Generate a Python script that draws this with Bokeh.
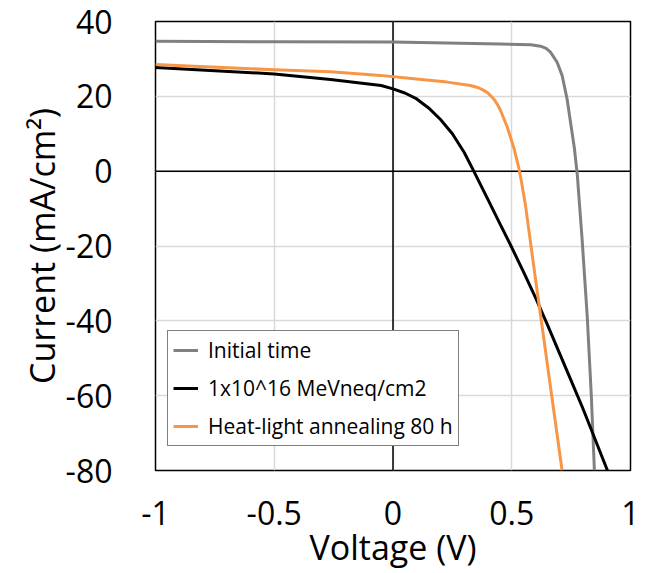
from bokeh.plotting import figure
from bokeh.models import Range1d, FixedTicker, Span, Legend, LegendItem
from bokeh.embed import file_html
from bokeh.resources import INLINE

# ---- data ----
v_initial = [-1.0, -0.5, 0.0, 0.45, 0.58, 0.621, 0.645, 0.663, 0.691, 0.712, 0.733, 0.75,
             0.764, 0.776, 0.796, 0.818, 0.835, 0.848]
i_initial = [34.7, 34.6, 34.5, 34.0, 33.8, 33.4, 32.8, 31.8, 29.1, 25.6, 19.3, 12.0,
             6.0, -1.0, -18.0, -39.0, -60.0, -80.0]

v_irr = [-1.0, -0.5, -0.263, -0.05, 0.0, 0.05, 0.1, 0.15, 0.2, 0.25, 0.3, 0.34,
         0.4, 0.45, 0.5, 0.55, 0.6, 0.65, 0.7, 0.75, 0.8, 0.85, 0.903]
i_irr = [27.7, 26.0, 24.5, 22.9, 22.0, 20.9, 19.3, 16.9, 13.8, 10.0, 5.0, 0.0,
         -7.6, -14.0, -20.4, -27.0, -33.8, -41.0, -48.5, -56.0, -63.5, -71.5, -80.0]

v_ann = [-1.0, -0.5, -0.263, -0.053, 0.088, 0.228, 0.326, 0.36, 0.382, 0.4, 0.424, 0.44,
         0.453, 0.481, 0.509, 0.53, 0.54, 0.558, 0.579, 0.6, 0.624, 0.663, 0.712]
i_ann = [28.5, 27.1, 26.6, 25.6, 24.7, 23.8, 22.9, 22.3, 21.6, 20.9, 19.3, 17.8,
         16.2, 11.8, 6.2, 0.8, -2.5, -9.2, -19.0, -28.8, -39.7, -57.6, -80.0]

series_names = ["Initial time", "1x10^16 MeVneq/cm2", "Heat-light annealing 80 h"]
series_colors = ["#808080", "#000000", "#F79646"]

x_ticks = [-1, -0.5, 0, 0.5, 1]
x_tick_labels = ["-1", "-0.5", "0", "0.5", "1"]
y_ticks = [-80, -60, -40, -20, 0, 20, 40]
y_tick_labels = ["-80", "-60", "-40", "-20", "0", "20", "40"]

FONT = "Open Sans"

p = figure(width=659, height=573, output_backend="svg", toolbar_location=None,
           x_range=Range1d(-1, 1), y_range=Range1d(-80, 40),
           min_border_left=155, min_border_right=29, min_border_top=21, min_border_bottom=103)

p.outline_line_color = "black"
p.outline_line_width = 1.5
p.background_fill_color = "white"
p.border_fill_color = "white"

for ax in (p.xaxis, p.yaxis):
    ax.major_tick_line_color = None
    ax.minor_tick_line_color = None
    ax.axis_line_color = None
    ax.major_label_text_font = FONT
    ax.major_label_text_font_size = "32px"
    ax.major_label_text_color = "black"
    ax.axis_label_text_font = FONT
    ax.axis_label_text_font_size = "34px"
    ax.axis_label_text_font_style = "normal"
    ax.axis_label_text_color = "black"

p.xaxis.ticker = FixedTicker(ticks=x_ticks)
p.yaxis.ticker = FixedTicker(ticks=y_ticks)
p.xaxis.major_label_overrides = dict(zip(x_ticks, x_tick_labels))
p.yaxis.major_label_overrides = dict(zip(y_ticks, y_tick_labels))
p.xaxis.major_label_standoff = 24
p.yaxis.major_label_standoff = 37
p.xaxis.axis_label = "Voltage (V)"
p.yaxis.axis_label = "Current (mA/cm\u00b2)"
p.xaxis.axis_label_standoff = -4
p.yaxis.axis_label_standoff = -2

p.xgrid.ticker = FixedTicker(ticks=x_ticks)
p.ygrid.ticker = FixedTicker(ticks=y_ticks)
p.grid.grid_line_color = "#d9d9d9"
p.grid.grid_line_width = 1.5

p.add_layout(Span(location=0, dimension="height", line_color="black", line_width=1.5, level="underlay"))
p.add_layout(Span(location=0, dimension="width", line_color="black", line_width=1.5, level="underlay"))

r1 = p.line(v_initial, i_initial, line_color=series_colors[0], line_width=3, line_join="round")
r2 = p.line(v_irr, i_irr, line_color=series_colors[1], line_width=3, line_join="round")
r3 = p.line(v_ann, i_ann, line_color=series_colors[2], line_width=3, line_join="round")

legend = Legend(items=[LegendItem(label=series_names[0], renderers=[r1]),
                       LegendItem(label=series_names[1], renderers=[r2]),
                       LegendItem(label=series_names[2], renderers=[r3])],
                location=(12, 24))
legend.label_text_font = FONT
legend.label_text_font_size = "21px"
legend.label_text_color = "black"
legend.border_line_color = "black"
legend.border_line_width = 1.5
legend.background_fill_alpha = 1.0
legend.glyph_width = 25
legend.glyph_height = 20
legend.label_height = 20
legend.label_standoff = 10
legend.spacing = 10
legend.padding = 5
legend.margin = 0
p.add_layout(legend, "center")

open("out.html", "w").write(file_html(p, INLINE))
